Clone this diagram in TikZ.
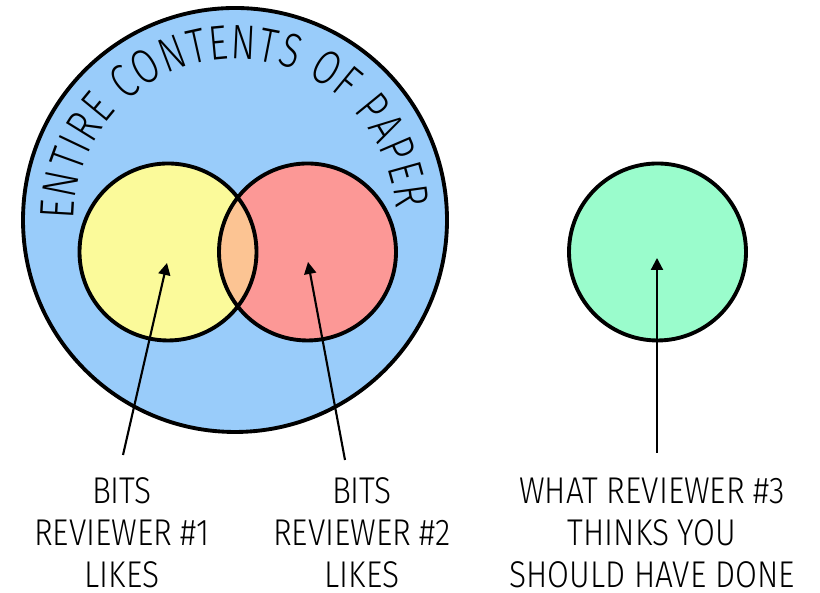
\documentclass[tikz,border=0pt]{standalone}
\usepackage{fontspec}
\setmainfont{Fira Sans}[UprightFont=* Light, FakeStretch=0.85]
\newfontfamily\arcfont{Fira Sans}[UprightFont=* Light, FakeStretch=0.76]
\usetikzlibrary{decorations.text,arrows.meta}
\definecolor{paperblue}{HTML}{99CCFA}
\definecolor{likeyellow}{HTML}{FBFA9A}
\definecolor{likered}{HTML}{FC9896}
\definecolor{likeboth}{HTML}{FCC493}
\definecolor{wishgreen}{HTML}{9AFCCC}
\tikzset{
  ring/.style={line width=1.1pt},
  pointer/.style={line width=0.6pt,-{Triangle[length=3.4pt,width=3.4pt]}},
  caption/.style={align=center,inner sep=0pt,anchor=north,
    font=\fontsize{10.6}{11.95}\selectfont}
}

\begin{document}
\begin{tikzpicture}
\useasboundingbox (0,0) rectangle (8.2,5.93);

\def\R{2.12} % paper radius
\def\r{0.885} % reviewer radius
\coordinate (paper) at (2.35,3.73);
\coordinate (rev1) at (1.68,3.41);
\coordinate (rev2) at (3.075,3.41);
\coordinate (rev3) at (6.575,3.41);

% the whole paper
\filldraw[ring,fill=paperblue] (paper) circle (\R);
\path[decorate,decoration={text along path,text align=fit to path,
  text={|\arcfont\fontsize{13.8}{13.8}\selectfont|ENTIRE CONTENTS OF PAPER}}]
  ([shift={(180:1.61)}]paper) arc (180:4:1.61);

% reviewers 1 and 2
\fill[likeyellow] (rev1) circle (\r);
\fill[likered] (rev2) circle (\r);
\begin{scope}
\clip (rev1) circle (\r);
\fill[likeboth] (rev2) circle (\r);
\end{scope}
\draw[ring] (rev1) circle (\r) (rev2) circle (\r);

% reviewer 3
\filldraw[ring,fill=wishgreen] (rev3) circle (\r);

\node[caption] (lab1) at (1.22,1.16) {BITS\\REVIEWER \#1\\LIKES};
\node[caption] (lab2) at (3.62,1.16) {BITS\\REVIEWER \#2\\LIKES};
\node[caption] (lab3) at (6.52,1.16) {WHAT REVIEWER \#3\\THINKS YOU\\SHOULD HAVE DONE};

\coordinate (tip1) at (1.67,3.30);
\coordinate (tip2) at (3.08,3.31);
\coordinate (tip3) at (6.57,3.35);
\draw[pointer] ([shift={(0.01,0.22)}]lab1.north) -- (tip1);
\draw[pointer] ([shift={(-0.17,0.17)}]lab2.north) -- (tip2);
\draw[pointer] ([shift={(0.05,0.24)}]lab3.north) -- (tip3);

\end{tikzpicture}
\end{document}
